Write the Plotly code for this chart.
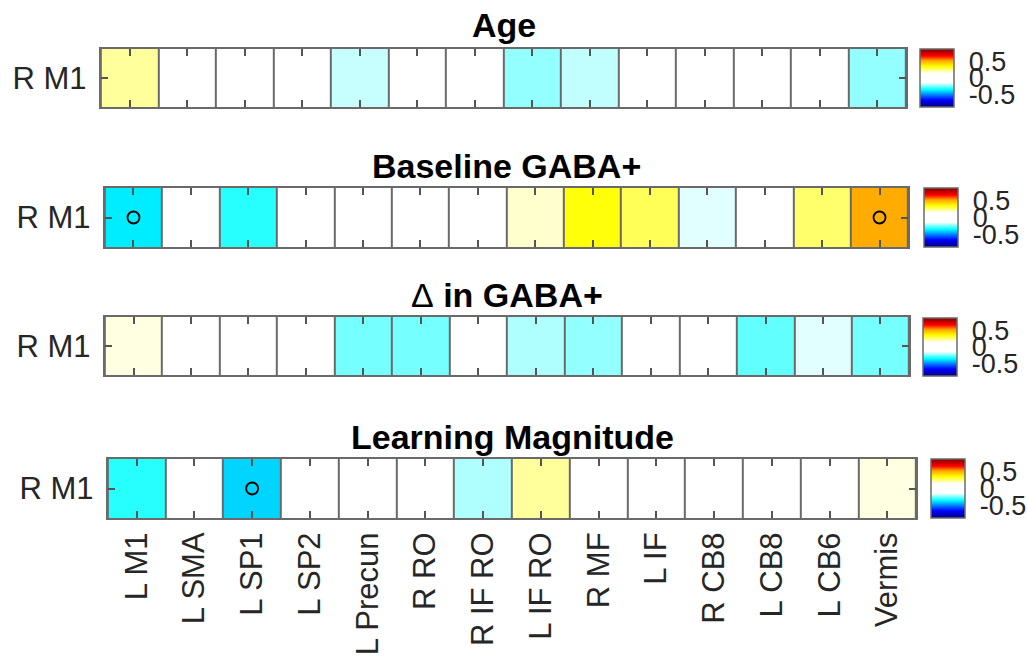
import plotly.graph_objects as go

regions = ["L M1", "L SMA", "L SP1", "L SP2", "L Precun", "R RO", "R IF RO",
           "L IF RO", "R MF", "L IF", "R CB8", "L CB8", "L CB6", "Vermis"]
row_label = "R M1"

panel_titles = ["Age", "Baseline GABA+",
                "<span style='font-weight:normal'>Δ</span> in GABA+",
                "Learning Magnitude"]

age_r      = [0.22, 0.05, -0.04, 0.03, -0.185, 0.06, -0.05, -0.228, -0.19, 0.04, -0.03, 0.02, 0.05, -0.228]
baseline_r = [-0.37, 0.04, -0.316, 0.05, -0.03, 0.06, 0.02, 0.18, 0.34, 0.276, -0.164, 0.03, 0.26, 0.51]
delta_r    = [0.163, 0.04, -0.05, 0.03, -0.252, -0.252, 0.05, -0.204, -0.228, 0.02, -0.06, -0.268, -0.164, -0.252]
learn_r    = [-0.316, 0.05, -0.40, 0.03, -0.04, 0.06, -0.204, 0.22, 0.04, 0.02, -0.05, 0.03, 0.06, 0.163]

sig_age      = []
sig_baseline = ["L M1", "Vermis"]
sig_delta    = []
sig_learn    = ["L SP1"]

values = [age_r, baseline_r, delta_r, learn_r]
sigs = [sig_age, sig_baseline, sig_delta, sig_learn]

CMAX = 0.87
cscale = [
    [0.00, "rgb(0,0,128)"],
    [0.12, "rgb(0,0,255)"],
    [0.30, "rgb(0,255,255)"],
    [0.42, "rgb(255,255,255)"],
    [0.58, "rgb(255,255,255)"],
    [0.70, "rgb(255,255,0)"],
    [0.80, "rgb(255,165,0)"],
    [0.88, "rgb(255,0,0)"],
    [1.00, "rgb(128,0,0)"],
]

W, H = 1028, 659
# pixel boxes: (left, right, top, bottom)
boxes = [(101, 908, 49, 107), (105, 910, 188, 247), (105, 911, 317, 375), (108, 918, 459, 518)]
cbars = [(922, 49, 107), (926, 188, 247), (925, 318, 376), (933, 459, 518)]
title_y = [25, 166, 295, 437]

FONT = "Liberation Sans, Arial, Helvetica, sans-serif"
GRID = "#6a6a6a"
TXT = "#262626"

fig = go.Figure()
for i in range(4):
    xa = "x" if i == 0 else f"x{i+1}"
    ya = "y" if i == 0 else f"y{i+1}"
    cx, ct, cb = cbars[i]
    fig.add_trace(go.Heatmap(
        z=[values[i]], x=regions, y=[row_label],
        zmin=-CMAX, zmax=CMAX, colorscale=cscale,
        xgap=2, ygap=0, xaxis=xa, yaxis=ya, hoverongaps=False,
        colorbar=dict(
            x=cx / W, xanchor="left", xpad=0,
            y=1 - ct / H, yanchor="top", ypad=0,
            len=cb - ct, lenmode="pixels",
            thickness=34, thicknessmode="pixels",
            outlinewidth=1.5, outlinecolor=GRID,
            tickvals=[-0.5, 0, 0.5], ticktext=["-0.5", "0", "0.5"],
            ticks="outside", ticklen=9, tickcolor="rgba(0,0,0,0)",
            tickfont=dict(family=FONT, size=27, color=TXT),
        ),
    ))
    if sigs[i]:
        fig.add_trace(go.Scatter(
            x=sigs[i], y=[row_label] * len(sigs[i]), mode="markers",
            marker=dict(symbol="circle-open", size=12, color="black", line=dict(width=1.8, color="black")),
            xaxis=xa, yaxis=ya, showlegend=False, hoverinfo="skip",
        ))
    l, r, t, b = boxes[i]
    xk = "xaxis" if i == 0 else f"xaxis{i+1}"
    yk = "yaxis" if i == 0 else f"yaxis{i+1}"
    fig.update_layout({
        xk: dict(domain=[l / W, r / W], anchor=ya, type="category",
                 categoryorder="array", categoryarray=regions,
                 range=[-0.5, len(regions) - 0.5],
                 showline=True, linecolor=GRID, linewidth=2, mirror="ticks",
                 ticks="inside", ticklen=7, tickwidth=1.5, tickcolor="#555555",
                 showgrid=False, zeroline=False, fixedrange=True, layer="above traces",
                 showticklabels=(i == 3), tickangle=-90,
                 tickfont=dict(family=FONT, size=31, color=TXT)),
        yk: dict(domain=[1 - b / H, 1 - t / H], anchor=xa, type="category",
                 range=[-0.5, 0.5],
                 showline=True, linecolor=GRID, linewidth=2, mirror="ticks",
                 ticks="inside", ticklen=7, tickwidth=1.5, tickcolor="#555555",
                 showgrid=False, zeroline=False, fixedrange=True, layer="above traces",
                 ticklabelstandoff=6,
                 tickfont=dict(family=FONT, size=31, color=TXT)),
    })
    fig.add_annotation(
        text=f"<b>{panel_titles[i]}</b>", xref="paper", yref="paper",
        x=(l + r) / 2 / W, y=1 - title_y[i] / H, xanchor="center", yanchor="middle",
        showarrow=False, font=dict(family=FONT, size=34, color="black"),
    )

fig.update_layout(
    width=W, height=H, margin=dict(l=0, r=0, t=0, b=0),
    paper_bgcolor="white", plot_bgcolor=GRID, showlegend=False,
)
fig.write_html("out.html")
